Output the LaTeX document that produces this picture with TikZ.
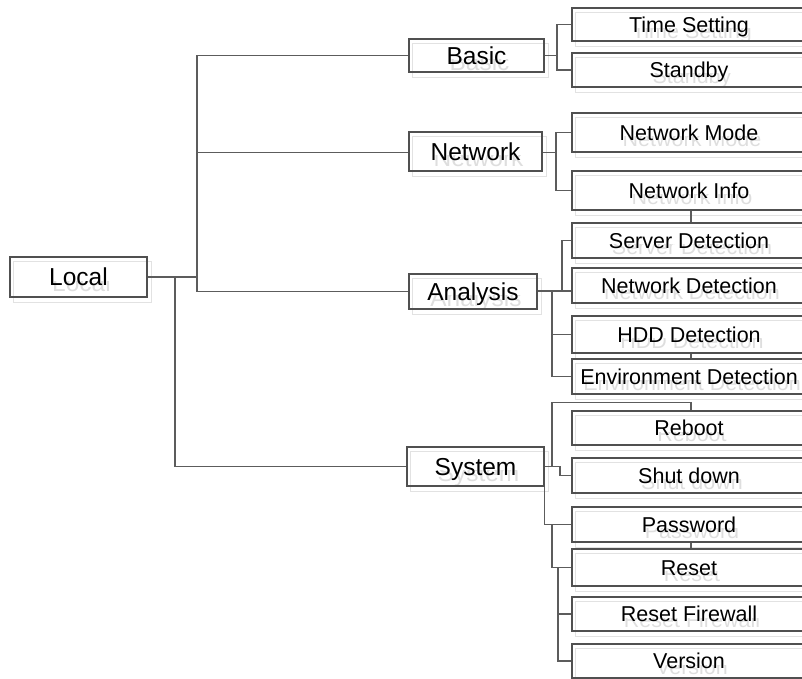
\documentclass[tikz,border=0pt]{standalone}
\usepackage{fontspec}
\setmainfont{Liberation Sans}
\definecolor{boxline}{HTML}{505050}
\definecolor{wire}{HTML}{5C5C5C}
\definecolor{shade}{HTML}{E2E2E2}
\definecolor{ghosttext}{HTML}{DEDEDE}
\pgfdeclarelayer{bg}
\pgfsetlayers{bg,main}
\tikzset{
  menubox/.style={draw=boxline, line width=1.3pt, inner sep=0pt, text depth=0pt},
  lvlone/.style={menubox, font=\fontsize{24.5}{28}\selectfont, text height=17.5pt,
    path picture={
      \clip ([yshift=-4pt]path picture bounding box.west) rectangle (path picture bounding box.south east);
      \node[font=\fontsize{24.5}{28}\selectfont, text=ghosttext, inner sep=0pt,
            text height=17.5pt, text depth=0pt]
        at ([shift={(3pt,-6pt)}]path picture bounding box.center) {#1};}},
  lvltwo/.style={menubox, font=\fontsize{21.5}{25}\selectfont, text height=15.4pt,
    minimum width=234pt,
    path picture={
      \clip ([yshift=-4pt]path picture bounding box.west) rectangle (path picture bounding box.south east);
      \node[font=\fontsize{21.5}{25}\selectfont, text=ghosttext, inner sep=0pt,
            text height=15.4pt, text depth=0pt]
        at ([shift={(3pt,-6pt)}]path picture bounding box.center) {#1};}},
  shadowline/.style={draw=shade, line width=1.3pt},
  wireline/.style={draw=wire, line width=1.3pt},
}
\begin{document}
\begin{tikzpicture}[x=1pt, y=-1pt]
  \useasboundingbox (0,0) rectangle (802,679);
  \clip (0,0) rectangle (802,679);

  % root and first-level menus
  \node[lvlone=Local, minimum width=137pt, minimum height=40pt] (local) at (78.5,277) {Local};
  \node[lvlone=Basic, minimum width=135pt, minimum height=33pt] (basic) at (476.5,55.5) {Basic};
  \node[lvlone=Network, minimum width=133pt, minimum height=39pt] (network) at (475.5,151.5) {Network};
  \node[lvlone=Analysis, minimum width=128pt, minimum height=35pt] (analysis) at (473,291.5) {Analysis};
  \node[lvlone=System, minimum width=137pt, minimum height=39pt] (system) at (475.5,466.5) {System};

  % second-level items
  \node[lvltwo=Time Setting, minimum height=33pt] (time) at (689,24.5) {Time Setting};
  \node[lvltwo=Standby, minimum height=34pt] (standby) at (689,70) {Standby};
  \node[lvltwo=Network Mode, minimum height=39pt] (netmode) at (689,132.5) {Network Mode};
  \node[lvltwo=Network Info, minimum height=39pt] (netinfo) at (689,190.5) {Network Info};
  \node[lvltwo=Server Detection, minimum height=35pt] (server) at (689,240.5) {Server Detection};
  \node[lvltwo=Network Detection, minimum height=35pt] (netdet) at (689,285.5) {Network Detection};
  \node[lvltwo=HDD Detection, minimum height=37pt] (hdd) at (689,334.5) {HDD Detection};
  \node[lvltwo=Environment Detection, minimum height=35pt] (env) at (689,376.5) {Environment Detection};
  \node[lvltwo=Reboot, minimum height=34pt] (reboot) at (689,428) {Reboot};
  \node[lvltwo=Shut down, minimum height=35pt] (shutdown) at (689,475.5) {Shut down};
  \node[lvltwo=Password, minimum height=35pt] (password) at (689,524.5) {Password};
  \node[lvltwo=Reset, minimum height=37pt] (reset) at (689,567.5) {Reset};
  \node[lvltwo=Reset Firewall, minimum height=34pt] (firewall) at (689,614) {Reset Firewall};
  \node[lvltwo=Version, minimum height=34pt] (version) at (689,661) {Version};

  % offset outlines behind every box
  \begin{pgfonlayer}{bg}
    \foreach \n in {local,basic,network,analysis,system,time,standby,netmode,netinfo,
                    server,netdet,hdd,env,reboot,shutdown,password,reset,firewall,version}
      \draw[shadowline] ([shift={(4pt,-5pt)}]\n.south west) rectangle ([shift={(4pt,-5pt)}]\n.north east);
  \end{pgfonlayer}

  % junction points of the tree
  \coordinate (j0) at (175,277);
  \coordinate (j1) at (197,277);
  \coordinate (jb) at (557,55.5);
  \coordinate (jn) at (556,152.5);
  \coordinate (ja1) at (562,291);
  \coordinate (ja2) at (552,291);
  \coordinate (js1) at (560,466.5);
  \coordinate (js2) at (552,466.5);
  \coordinate (jp) at (552,524.5);
  \coordinate (jr) at (558,567.5);

  % root branches
  \draw[wireline] (local.east) -- (j1);
  \draw[wireline] (basic.west) -| (j1) |- (analysis.west);
  \draw[wireline] (network.west |- jn) -- (jn -| j1);
  \draw[wireline] (j0) |- (system.west);

  % Basic
  \draw[wireline] (basic.east) -- (jb);
  \draw[wireline] (time.west) -| (jb) |- (standby.west);

  % Network
  \draw[wireline] (network.east |- jn) -- (jn);
  \draw[wireline] (netmode.west) -| (jn) |- (netinfo.west);
  \draw[wireline] ([xshift=2pt]netinfo.south) -- ([xshift=2pt]server.north);

  % Analysis
  \draw[wireline] (analysis.east |- ja1) -- (ja1 -| netdet.west);
  \draw[wireline] (server.west) -| (ja1);
  \draw[wireline] (ja2) |- (env.west);
  \draw[wireline] (hdd.west) -- (hdd.west -| ja2);
  \draw[wireline] ([xshift=2pt]hdd.south) -- ([xshift=2pt]env.north);

  % System
  \draw[wireline] (system.east) -- (js1) |- (shutdown.west);
  \draw[wireline] (js2) |- ([shift={(2pt,8pt)}]reboot.north) -- ([xshift=2pt]reboot.north);
  \draw[wireline] (system.south east) |- (password.west);
  \draw[wireline] (jp) |- (reset.west);
  \draw[wireline] (jr) |- (version.west);
  \draw[wireline] (firewall.west) -- (firewall.west -| jr);
  \draw[wireline] ([xshift=2pt]password.south) -- ([xshift=2pt]reset.north);
\end{tikzpicture}
\end{document}
